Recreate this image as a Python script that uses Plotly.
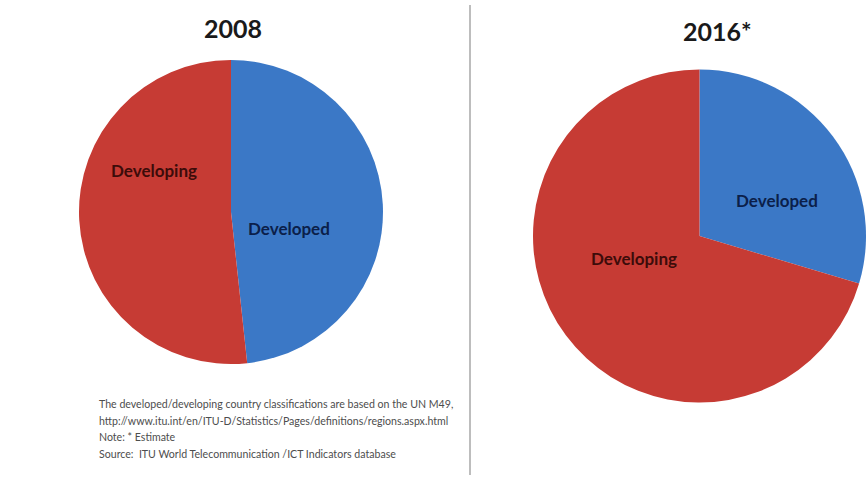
import plotly.graph_objects as go

categories = ["Developed", "Developing"]
share_2008 = [48.3, 51.7]
share_2016 = [29.6, 70.4]
titles = ["2008", "2016*"]
colors = ["#3b78c6", "#c63b34"]
label_colors = ["#0b1f4a", "#3d0c0a"]
note_lines = [
    "The developed/developing country classifications are based on the UN M49,",
    "http://www.itu.int/en/ITU-D/Statistics/Pages/definitions/regions.aspx.html",
    "Note: * Estimate",
    "Source:  ITU World Telecommunication /ICT Indicators database",
]

W, H = 866, 477

def px(x):
    return x / W

def py(y):
    return 1 - y / H

fig = go.Figure()
fig.add_trace(go.Pie(
    labels=categories, values=share_2008, sort=False, direction="clockwise",
    rotation=0, textinfo="none", hoverinfo="label+percent",
    marker=dict(colors=colors, line=dict(width=0)),
    domain=dict(x=[px(79), px(383)], y=[py(364), py(60)]),
    showlegend=False,
))
fig.add_trace(go.Pie(
    labels=categories, values=share_2016, sort=False, direction="clockwise",
    rotation=0, textinfo="none", hoverinfo="label+percent",
    marker=dict(colors=colors, line=dict(width=0)),
    domain=dict(x=[px(533), 1.0], y=[py(410), py(62)]),
    showlegend=False,
))

ann = []
# titles
for (x, y), t in zip([(233, 28), (717, 31)], titles):
    ann.append(dict(x=px(x), y=py(y), text="<b>%s</b>" % t, showarrow=False,
                    xanchor="center", yanchor="middle",
                    font=dict(family="Lato", size=25, color="#1a1a1a"),
                    xref="paper", yref="paper"))
# slice labels
label_pos = [
    (289, 228, 0), (154, 170, 1),   # 2008
    (777, 200, 0), (634, 258, 1),   # 2016
]
for x, y, i in label_pos:
    ann.append(dict(x=px(x), y=py(y), text="<b>%s</b>" % categories[i], showarrow=False,
                    xanchor="center", yanchor="middle",
                    font=dict(family="Lato", size=17, color=label_colors[i]),
                    xref="paper", yref="paper"))
# note lines
for k, line in enumerate(note_lines):
    ann.append(dict(x=px(97), y=py(404 + 16.5 * k), text=line, showarrow=False,
                    xanchor="left", yanchor="middle",
                    font=dict(family="Lato", size=10.6, color="#4d4d4d"),
                    xref="paper", yref="paper"))

fig.update_layout(
    width=W, height=H, margin=dict(l=0, r=0, t=0, b=0),
    paper_bgcolor="white", plot_bgcolor="white",
    annotations=ann,
    shapes=[dict(type="line", xref="paper", yref="paper",
                 x0=px(470), x1=px(470), y0=py(5), y1=py(475),
                 line=dict(color="#bdbdbd", width=2))],
)
fig.write_html("out.html")
